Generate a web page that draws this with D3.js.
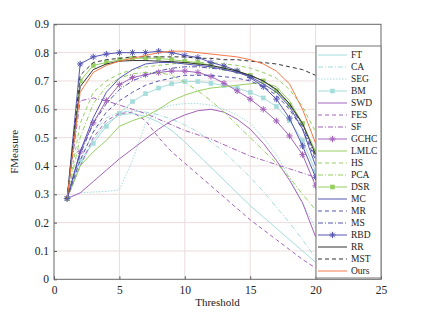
<!DOCTYPE html>
<html><head><meta charset="utf-8">
<script src="https://cdn.jsdelivr.net/npm/d3@7"></script>
<style>
html,body{margin:0;padding:0;background:#fff;}
svg{display:block;}
svg text{font-family:"Liberation Serif","DejaVu Serif",serif !important;}
</style></head>
<body><svg id="c" width="421" height="314"></svg>
<script>
const thresholds = d3.range(1, 21);
const xTicks = [0, 5, 10, 15, 20, 25];
const yTicks = [0, 0.1, 0.2, 0.3, 0.4, 0.5, 0.6, 0.7, 0.8, 0.9];
const names = ["FT","CA","SEG","BM","SWD","FES","SF","GCHC","LMLC","HS","PCA","DSR","MC","MR","MS","RBD","RR","MST","Ours"];

const FT   = [0.285,0.40,0.49,0.55,0.58,0.585,0.575,0.555,0.525,0.485,0.44,0.395,0.35,0.305,0.26,0.22,0.18,0.14,0.10,0.06];
const CA   = [0.285,0.42,0.52,0.57,0.59,0.595,0.59,0.58,0.565,0.545,0.52,0.485,0.45,0.405,0.36,0.31,0.255,0.20,0.14,0.075];
const SEG  = [0.285,0.305,0.308,0.31,0.316,0.42,0.55,0.60,0.615,0.62,0.62,0.615,0.60,0.58,0.55,0.50,0.44,0.36,0.27,0.18];
const BM   = [0.285,0.42,0.48,0.54,0.585,0.627,0.655,0.675,0.69,0.698,0.698,0.692,0.684,0.675,0.66,0.64,0.61,0.56,0.49,0.38];
const SWD  = [0.285,0.305,0.345,0.385,0.425,0.46,0.495,0.53,0.56,0.58,0.595,0.60,0.59,0.565,0.53,0.48,0.42,0.35,0.27,0.15];
const FES  = [0.285,0.40,0.50,0.56,0.585,0.59,0.56,0.50,0.45,0.41,0.37,0.33,0.29,0.25,0.21,0.175,0.14,0.105,0.07,0.04];
const SF   = [0.285,0.63,0.64,0.63,0.615,0.60,0.585,0.565,0.545,0.525,0.51,0.495,0.475,0.455,0.435,0.42,0.405,0.39,0.375,0.36];
const GCHC = [0.285,0.45,0.552,0.631,0.687,0.712,0.722,0.73,0.735,0.735,0.73,0.716,0.692,0.665,0.636,0.60,0.559,0.506,0.44,0.33];
const LMLC = [0.285,0.40,0.45,0.49,0.54,0.56,0.575,0.60,0.63,0.65,0.665,0.675,0.68,0.685,0.69,0.695,0.68,0.63,0.55,0.45];
const HS   = [0.285,0.55,0.66,0.70,0.725,0.74,0.75,0.755,0.76,0.765,0.765,0.765,0.76,0.755,0.745,0.73,0.71,0.67,0.61,0.52];
const PCA  = [0.285,0.50,0.62,0.68,0.71,0.725,0.73,0.73,0.72,0.695,0.665,0.63,0.59,0.545,0.50,0.455,0.41,0.36,0.30,0.245];
const DSR  = [0.285,0.70,0.755,0.765,0.775,0.78,0.78,0.78,0.775,0.77,0.765,0.755,0.745,0.735,0.72,0.70,0.665,0.615,0.55,0.45];
const MC   = [0.285,0.45,0.57,0.66,0.71,0.74,0.76,0.765,0.765,0.76,0.755,0.75,0.74,0.73,0.715,0.69,0.66,0.61,0.53,0.40];
const MR   = [0.285,0.42,0.52,0.59,0.63,0.66,0.685,0.70,0.71,0.72,0.72,0.72,0.715,0.71,0.70,0.68,0.65,0.60,0.53,0.42];
const MS   = [0.285,0.44,0.55,0.62,0.67,0.70,0.72,0.735,0.745,0.75,0.75,0.745,0.74,0.73,0.72,0.70,0.67,0.62,0.54,0.43];
const RBD  = [0.285,0.76,0.785,0.795,0.80,0.80,0.80,0.805,0.80,0.79,0.783,0.765,0.753,0.736,0.712,0.68,0.636,0.569,0.471,0.36];
const RR   = [0.285,0.68,0.74,0.76,0.77,0.772,0.772,0.77,0.768,0.765,0.76,0.755,0.745,0.735,0.72,0.70,0.67,0.62,0.55,0.44];
const MST  = [0.285,0.72,0.765,0.775,0.78,0.785,0.785,0.785,0.785,0.785,0.78,0.78,0.775,0.775,0.77,0.765,0.76,0.75,0.74,0.72];
const Ours = [0.285,0.66,0.73,0.755,0.77,0.78,0.79,0.80,0.805,0.805,0.80,0.795,0.79,0.785,0.775,0.76,0.735,0.69,0.60,0.48];

const values = {FT,CA,SEG,BM,SWD,FES,SF,GCHC,LMLC,HS,PCA,DSR,MC,MR,MS,RBD,RR,MST,Ours};
const cyan="#a6dcdc", purple="#a262ba", green="#96d062", blue="#5656b2", black="#333333", orange="#f47a4a";
const styles = {
  FT:{c:cyan,d:null}, CA:{c:cyan,d:"5,2,1,2"}, SEG:{c:cyan,d:"1.5,1.5"}, BM:{c:cyan,d:null,m:"sq"},
  SWD:{c:purple,d:null}, FES:{c:purple,d:"4,3"}, SF:{c:purple,d:"5,2,1,2"}, GCHC:{c:purple,d:null,m:"star"},
  LMLC:{c:green,d:null}, HS:{c:green,d:"4,3"}, PCA:{c:green,d:"5,2,1,2"}, DSR:{c:green,d:null,m:"sq"},
  MC:{c:blue,d:null}, MR:{c:blue,d:"4,3"}, MS:{c:blue,d:"5,2,1,2"}, RBD:{c:blue,d:null,m:"star"},
  RR:{c:black,d:null}, MST:{c:black,d:"4,3"}, Ours:{c:orange,d:null}
};

const svg = d3.select("#c");
const L=54, R=381, T=24.3, B=279.3;
const x = d3.scaleLinear().domain([0,25]).range([L,R]);
const y = d3.scaleLinear().domain([0,0.9]).range([B,T]);

// grid
svg.append("g").selectAll("line").data(xTicks.slice(1,-1)).join("line")
  .attr("x1",d=>x(d)).attr("x2",d=>x(d)).attr("y1",T).attr("y2",B)
  .attr("stroke","#ecdcdc").attr("stroke-width",1);
svg.append("g").selectAll("line").data(yTicks.slice(1,-1)).join("line")
  .attr("x1",L).attr("x2",R).attr("y1",d=>y(d)).attr("y2",d=>y(d))
  .attr("stroke","#ecdcdc").attr("stroke-width",1);

// axes
const xa = svg.append("g").attr("transform",`translate(0,${B})`)
  .call(d3.axisBottom(x).tickValues(xTicks).tickSize(-3).tickPadding(7).tickFormat(d3.format("d")));
const ya = svg.append("g").attr("transform",`translate(${L},0)`)
  .call(d3.axisLeft(y).tickValues(yTicks).tickSize(-3).tickPadding(5).tickFormat(d=>d===0?"0":d3.format(".1f")(d)));
[xa,ya].forEach(a=>{a.select(".domain").remove();
  a.selectAll("line").attr("stroke","#555");
  a.selectAll("text").attr("font-size",11.5).attr("fill","#222");});
svg.append("rect").attr("x",L).attr("y",T).attr("width",R-L).attr("height",B-T)
  .attr("fill","none").attr("stroke","#666").attr("stroke-width",1);

// lines
const line = d3.line().x((d,i)=>x(thresholds[i])).y(d=>y(d));
const plotG = svg.append("g");
function marker(g, type, cx, cy, color){
  if(type==="sq"){
    g.append("rect").attr("x",cx-2).attr("y",cy-2).attr("width",4).attr("height",4)
      .attr("fill",color).attr("stroke",color).attr("stroke-width",0.6);
  } else if(type==="star"){
    const s=3.2;
    g.append("path")
      .attr("d",`M${cx-s},${cy}L${cx+s},${cy}M${cx},${cy-s}L${cx},${cy+s}M${cx-s*0.7},${cy-s*0.7}L${cx+s*0.7},${cy+s*0.7}M${cx-s*0.7},${cy+s*0.7}L${cx+s*0.7},${cy-s*0.7}`)
      .attr("stroke",color).attr("stroke-width",1).attr("fill","none");
  }
}
names.forEach(n=>{
  const st=styles[n];
  const g=plotG.append("g");
  g.append("path").datum(values[n]).attr("d",line).attr("fill","none")
    .attr("stroke",st.c).attr("stroke-width",1).attr("stroke-dasharray",st.d);
  if(st.m) values[n].forEach((v,i)=>marker(g,st.m,x(thresholds[i]),y(v),st.c));
});

// labels
svg.append("text").attr("x",(L+R)/2).attr("y",306).attr("text-anchor","middle")
  .attr("font-size",11).attr("fill","#222").text("Threshold");
svg.append("text").attr("transform",`translate(18,${(T+B)/2}) rotate(-90)`).attr("text-anchor","middle")
  .attr("font-size",11).attr("fill","#222").text("FMeasure");

// legend
const lgX=316, lgY=46, lgW=65, step=12;
const lg = svg.append("g");
lg.append("rect").attr("x",lgX).attr("y",lgY).attr("width",lgW).attr("height",232)
  .attr("fill","#fff").attr("stroke","#777").attr("stroke-width",1);
names.forEach((n,i)=>{
  const st=styles[n], yy=lgY+9+i*step;
  lg.append("line").attr("x1",lgX+2).attr("x2",lgX+31).attr("y1",yy).attr("y2",yy)
    .attr("stroke",st.c).attr("stroke-width",1).attr("stroke-dasharray",st.d);
  if(st.m) marker(lg,st.m,lgX+16.5,yy,st.c);
  lg.append("text").attr("x",lgX+35).attr("y",yy+3.2).attr("font-size",9.5).attr("fill","#222").text(n);
});
</script></body></html>
